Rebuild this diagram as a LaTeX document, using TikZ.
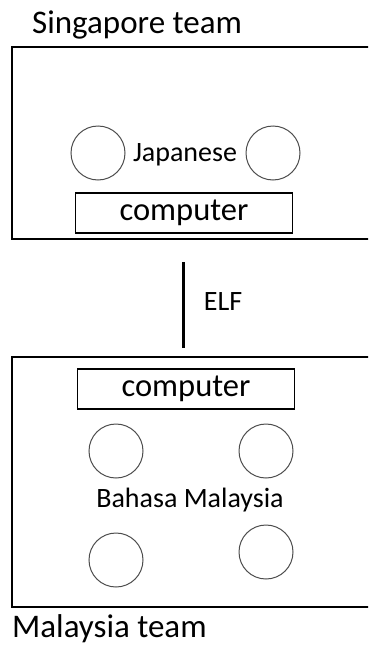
\documentclass[tikz,border=0pt]{standalone}
\usepackage{fontspec}
\setmainfont{Carlito}
\begin{document}
\begin{tikzpicture}[x=1pt,y=-1pt,
  team/.style={draw=black,line width=1.6pt},
  pc/.style={draw=black,line width=1.3pt,minimum width=217pt,minimum height=40pt,inner sep=0pt,font=\fontsize{32.5}{36}\selectfont},
  person/.style={circle,draw=black!70,line width=1pt,minimum size=54pt,inner sep=0pt},
  lbl/.style={font=\fontsize{33}{36}\selectfont,inner sep=0pt},
  small/.style={font=\fontsize{28}{32}\selectfont,inner sep=0pt}]
\useasboundingbox (0,0) rectangle (368,648);
\clip (0,0) rectangle (368,648);
% Singapore team
\node[lbl,anchor=west] (sgt) at (32,25) {Singapore team};
\draw[team] (12,47) rectangle (380,239);
\node[person] (s1) at (98,153) {};
\node[person] (s2) at (273,153) {};
\node[small] (jp) at (185,155) {Japanese};
\node[pc] (pc1) at (184,213) {computer};
% ELF link
\coordinate (e1) at (183,262);
\coordinate (e2) at (183,348);
\draw[line width=3pt] (e1) -- (e2);
\node[small] (elf) at (223,302) {ELF};
% Malaysia team
\draw[team] (12,357) rectangle (380,607);
\node[pc] (pc2) at (186,389) {computer};
\node[person] (m1) at (116,451) {};
\node[person] (m2) at (266,451) {};
\node[small] (bm) at (190,500) {Bahasa Malaysia};
\node[person] (m3) at (116,560) {};
\node[person] (m4) at (266,552) {};
\node[lbl,anchor=west] (myt) at (12,629) {Malaysia team};
\end{tikzpicture}
\end{document}
